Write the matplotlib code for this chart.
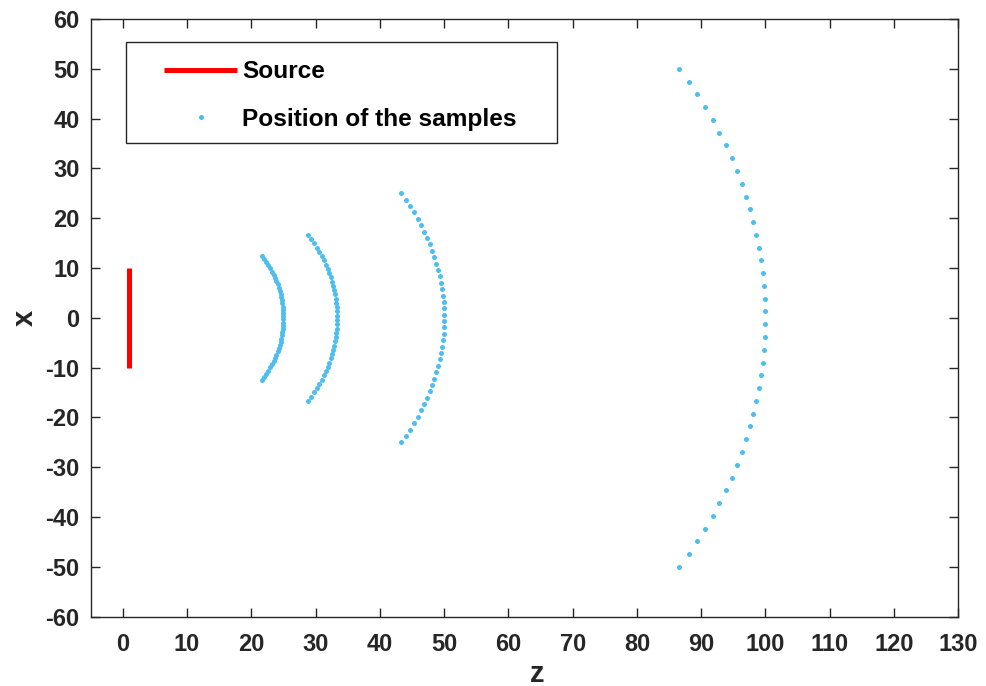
import numpy as np
import matplotlib
matplotlib.use('Agg')
import matplotlib.pyplot as plt
from matplotlib.patches import Rectangle

# source segment (z, x)
source_z = [1, 1]
source_x = [-10, 10]

# arcs of samples: radius and half-width in x, 40 samples each, uniform in x
radii = [25, 33.33, 50, 100]
half_widths = [12.5, 16.67, 25, 50]
n_samples = 40

x_ticks = list(range(0, 131, 10))
y_ticks = list(range(-60, 61, 10))

plt.rcParams['font.family'] = ['Liberation Sans', 'DejaVu Sans']
plt.rcParams['font.weight'] = 'bold'
plt.rcParams['axes.unicode_minus'] = False

fig = plt.figure(figsize=(9.87, 6.86), dpi=100)
ax = fig.add_axes([0.0919, 0.1010, 0.8790, 0.8713])

ax.plot(source_z, source_x, color='#FF0000', linewidth=3.6, solid_capstyle='butt',
        label='Source')

first = True
for r, h in zip(radii, half_widths):
    xs = np.linspace(-h, h, n_samples)
    zs = np.sqrt(r ** 2 - xs ** 2)
    ax.plot(zs, xs, linestyle='none', marker='o', markersize=3.6, color='#4DBEEE',
            markeredgewidth=0, label='Position of the samples' if first else None)
    first = False

ax.set_xlim(-5, 130)
ax.set_ylim(-60, 60)
ax.set_xticks(x_ticks)
ax.set_yticks(y_ticks)

dark = '#262626'
for s in ax.spines.values():
    s.set_color(dark)
    s.set_linewidth(1.0)
ax.tick_params(direction='in', length=6.5, width=1.0, color=dark, labelcolor=dark,
               labelsize=17, top=True, right=True)
ax.tick_params(axis='x', pad=12)
ax.tick_params(axis='y', pad=8)
for lbl in ax.get_xticklabels() + ax.get_yticklabels():
    lbl.set_fontweight('bold')

ax.set_xlabel('z', fontsize=21, fontweight='bold', color=dark)
ax.set_ylabel('x', fontsize=21, fontweight='bold', color=dark)
ax.xaxis.set_label_coords(0.515, -0.072)
ax.yaxis.set_label_coords(-0.06, 0.5)

# legend box drawn separately (MATLAB style wide frame)
ax.add_patch(Rectangle((0.0407, 0.7925), 0.4968, 0.169, transform=ax.transAxes,
                       facecolor='white', edgecolor=dark, linewidth=1.0, zorder=4))
leg = ax.legend(loc='upper left', bbox_to_anchor=(0.0845, 0.931), fontsize=17.6,
                frameon=False, handlelength=3.0, handletextpad=0.2,
                markerscale=1.0, borderpad=0, labelspacing=1.0, borderaxespad=0)
leg.set_zorder(5)
for t in leg.get_texts():
    t.set_fontweight('bold')
    t.set_color('black')

fig.savefig('out.png', dpi=100)
